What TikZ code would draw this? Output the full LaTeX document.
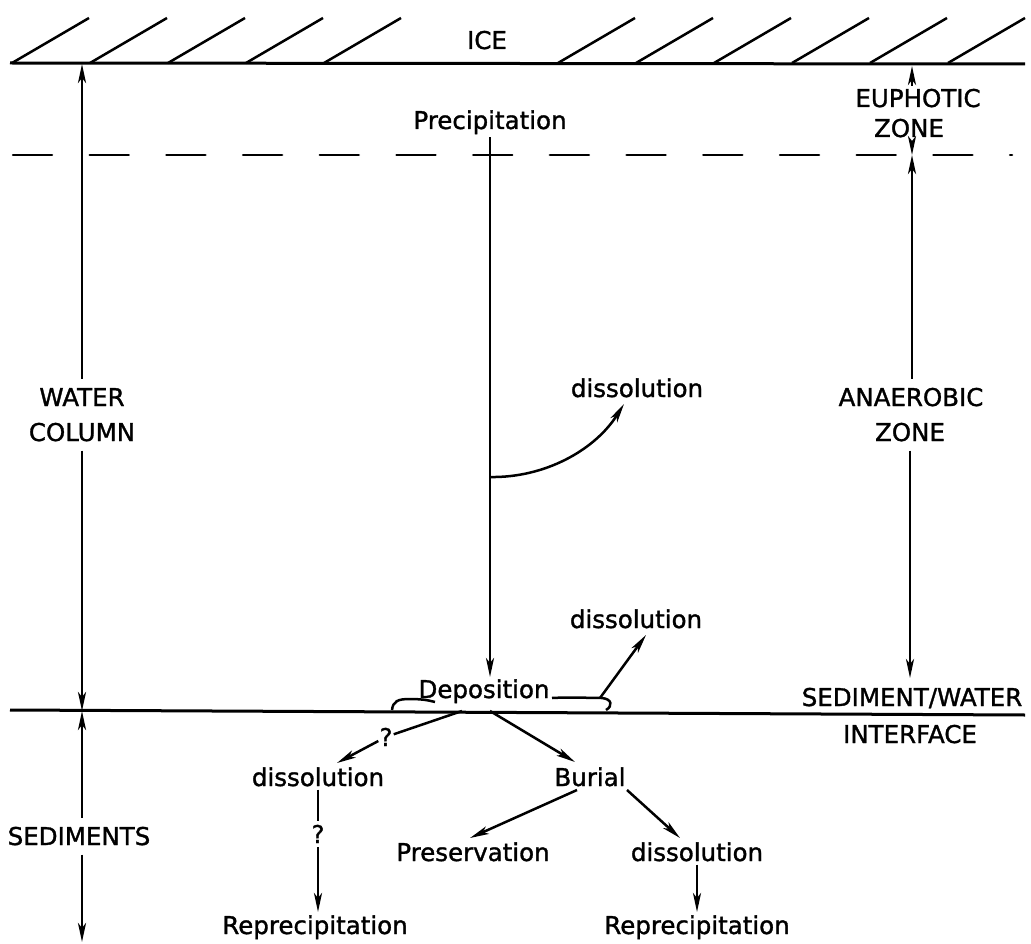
\documentclass[tikz,border=0pt]{standalone}
\usepackage{fontspec}
\setmainfont{DejaVu Sans}[AutoFakeBold=1.3]
\usetikzlibrary{arrows.meta}
\begin{document}
\begin{tikzpicture}[x=1pt,y=-1pt,
  lbl/.style={font=\fontsize{24.5}{29}\selectfont\bfseries, anchor=base, inner xsep=2pt, inner ysep=3pt},
  gap/.style={lbl, inner ysep=9pt},
  rule/.style={line width=3pt},
  ln/.style={line width=2.5pt},
  arr/.style={ln, -{Stealth[length=19pt,width=8pt,inset=5pt]}},
]
\useasboundingbox (0,0) rectangle (1031,944);

% ice surface with hatching
\draw[rule] (10,63) -- (1025,64);
\foreach \k in {0,1,2,3,4,7,8,9,10,11,12}
  \draw[ln] ({12+78*\k},63) -- ({89+78*\k},18);
\node[lbl] (ice) at (487,49) {ICE};

% base of the euphotic zone
\draw[ln, dash pattern=on 39pt off 37.7pt, line cap=round] (13,155) -- (1012,155);

% sediment/water interface
\draw[rule] (10,710) -- (1025,715);

% fixed points on the horizontal lines
\coordinate (iceL) at (82,64);
\coordinate (sedL) at (82,711);
\coordinate (botL) at (82,942);
\coordinate (iceR) at (912,66);
\coordinate (dashR) at (912,155);
\coordinate (sedR) at (910,678);

% left scale: water column and sediments
\node[gap] (wat) at (82,406) {WATER};
\node[gap] (col) at (82,441) {COLUMN};
\node[gap] (sed) at (79,845) {SEDIMENTS};
\draw[arr] (wat.north -| iceL) -- (iceL);
\draw[arr] (col.south -| sedL) -- (sedL);
\draw[arr] (sed.north -| sedL) -- (sedL);
\draw[arr] (sed.south -| botL) -- (botL);

% right scale: euphotic and anaerobic zones
\node[lbl] (eu) at (918,107) {EUPHOTIC};
\node[lbl] (zo1) at (909,137) {ZONE};
\node[gap] (ana) at (911,406) {ANAEROBIC};
\node[gap] (zo2) at (910,441) {ZONE};
\draw[arr] (eu.north -| iceR) -- (iceR);
\draw[arr] (zo1.south -| dashR) -- (dashR);
\draw[arr] (ana.north -| dashR) -- (dashR);
\draw[arr] (zo2.south -| sedR) -- (sedR);
\node[lbl] (swi) at (912,706) {SEDIMENT/WATER};
\node[lbl] (intf) at (910,743) {INTERFACE};

% water column processes
\node[lbl] (prec) at (490,129) {Precipitation};
\node[lbl] (dep) at (484,698) {Deposition};
\coordinate (deptop) at (490,677);
\draw[arr] (prec.south) -- (deptop);
\coordinate (br) at (490,477);
\coordinate (d1tip) at (624,404);
\node[lbl] (d1) at (637,397) {dissolution};
\draw[arr] (br) .. controls (545,478) and (595,450) .. (d1tip);

% deposited layer outline and dissolution at the interface
\draw[ln] (392,710) .. controls (393,701) and (398,699) .. (410,699)
          .. controls (420,699) and (428,700) .. (435,702);
\draw[ln] (552,698) .. controls (570,697) and (590,698) .. (602,698)
          .. controls (612,699) and (613,706) .. (606,710);
\node[lbl] (d2) at (636,628) {dissolution};
\coordinate (d2s) at (600,698);
\coordinate (d2tip) at (646,635);
\draw[arr] (d2s) -- (d2tip);

% fate in the sediments
\coordinate (b1) at (462,711);
\coordinate (t1) at (337,763);
\node[lbl, inner sep=1pt] (q1) at (386,746) {?};
\draw[ln] (b1) -- (q1);
\draw[arr] (q1) -- (t1);
\node[lbl] (dL) at (318,786) {dissolution};
\node[lbl, inner sep=4pt] (q2) at (318,843) {?};
\coordinate (t2) at (318,912);
\draw[ln] (dL.south) -- (q2);
\draw[arr] (q2) -- (t2);
\node[lbl] (rL) at (315,934) {Reprecipitation};

\coordinate (b2) at (490,711);
\coordinate (t3) at (575,762);
\node[lbl] (bu) at (590,786) {Burial};
\draw[arr] (b2) -- (t3);
\coordinate (s4) at (577,790);
\coordinate (t4) at (470,838);
\coordinate (s5) at (627,790);
\coordinate (t5) at (680,838);
\draw[arr] (s4) -- (t4);
\draw[arr] (s5) -- (t5);
\node[lbl] (pres) at (473,861) {Preservation};
\node[lbl] (dR) at (697,861) {dissolution};
\coordinate (t6) at (697,912);
\draw[arr] (dR.south) -- (t6);
\node[lbl] (rR) at (697,934) {Reprecipitation};
\end{tikzpicture}
\end{document}
